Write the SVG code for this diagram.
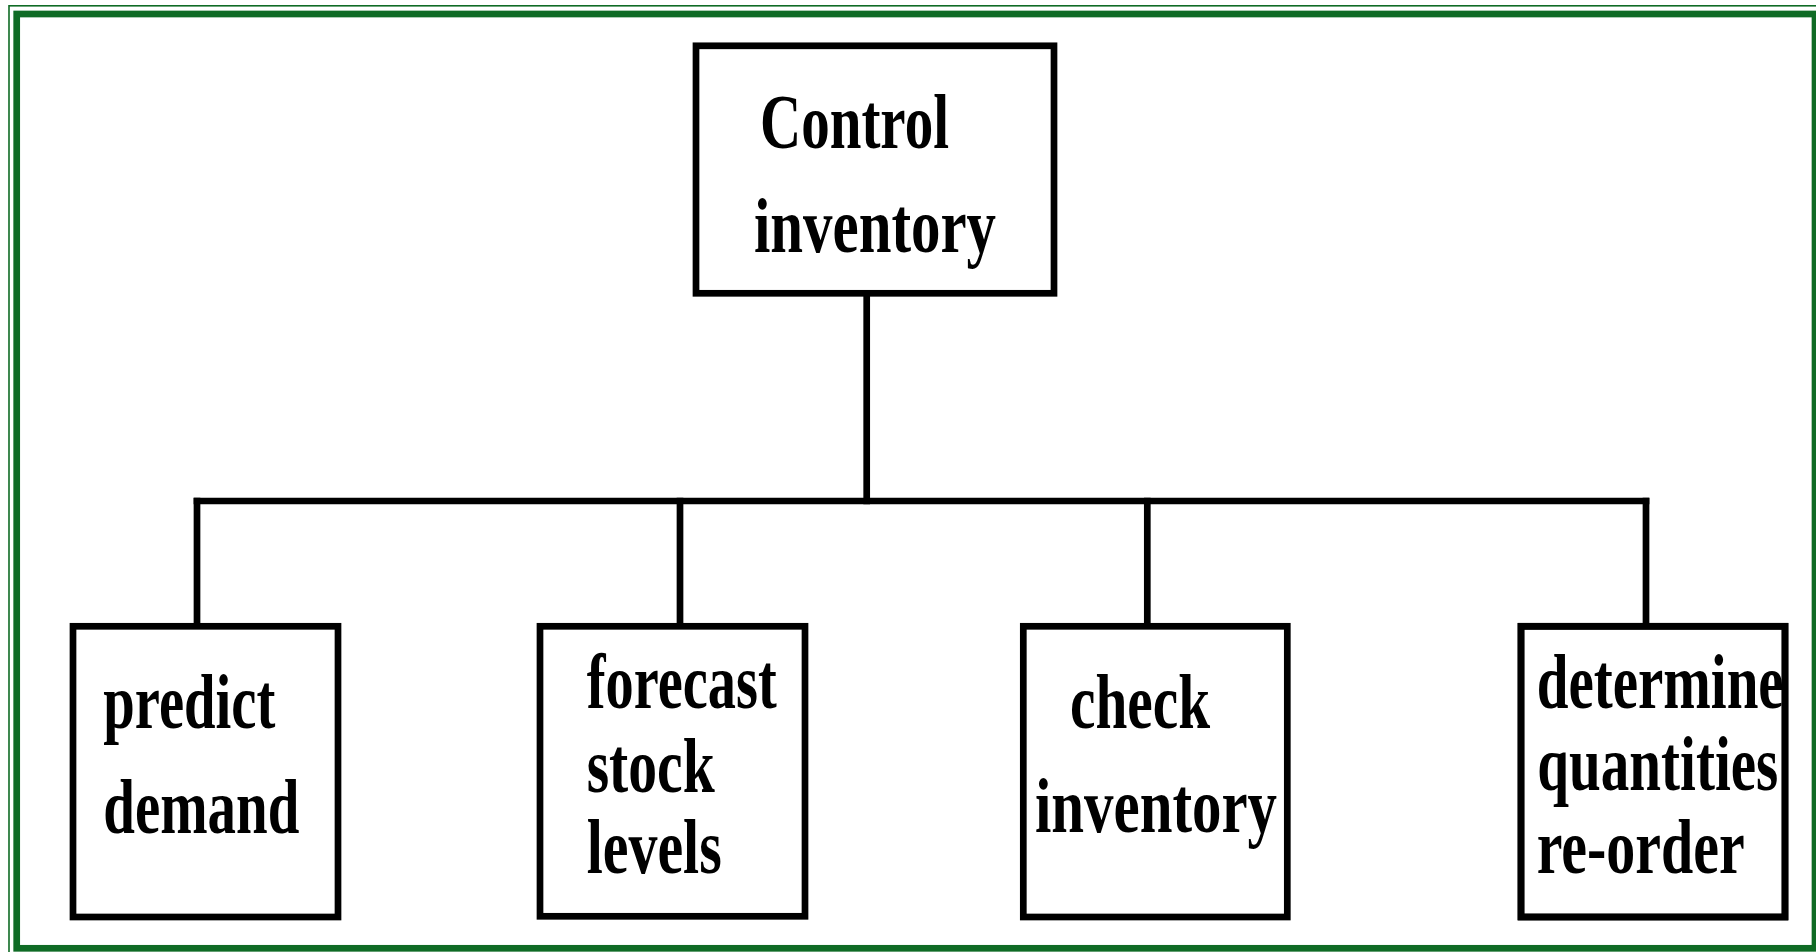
<svg xmlns="http://www.w3.org/2000/svg" width="1816" height="952" viewBox="0 0 1816 952">
  <style>
    .frame { fill: none; stroke: #0f6b25; }
    .box { fill: #ffffff; stroke: #000000; stroke-width: 6.7; }
    .link { fill: none; stroke: #000000; stroke-width: 6.7; stroke-linecap: square; }
    .label { font-family: "Liberation Serif", "Times New Roman", serif; font-weight: bold; font-size: 78px; fill: #000000; }
  </style>

  <rect x="0" y="0" width="1816" height="952" fill="#ffffff"/>

  <!-- double green page frame -->
  <rect class="frame" x="9" y="5.8" width="1830" height="970" stroke-width="1.6"/>
  <rect class="frame" x="16.7" y="14" width="1798.3" height="934.3" stroke-width="6.7"/>

  <!-- tree connectors -->
  <g id="connectors">
    <line class="link" x1="866.7" y1="296" x2="866.7" y2="501"/>
    <line class="link" x1="197" y1="501" x2="1646" y2="501"/>
    <line class="link" x1="197" y1="501" x2="197" y2="623"/>
    <line class="link" x1="680" y1="501" x2="680" y2="623"/>
    <line class="link" x1="1147.3" y1="501" x2="1147.3" y2="623"/>
    <line class="link" x1="1646" y1="501" x2="1646" y2="623"/>
  </g>

  <g id="control-inventory">
    <rect class="box" x="696" y="45.8" width="358" height="247.5"/>
    <text class="label" x="760" y="148" textLength="189" lengthAdjust="spacingAndGlyphs">Control</text>
    <text class="label" x="754" y="251.7" textLength="242" lengthAdjust="spacingAndGlyphs">inventory</text>
  </g>

  <g id="predict-demand">
    <rect class="box" x="73" y="626.3" width="265" height="290.7"/>
    <text class="label" x="103.3" y="728.3" textLength="172" lengthAdjust="spacingAndGlyphs">predict</text>
    <text class="label" x="103.3" y="833.3" textLength="196" lengthAdjust="spacingAndGlyphs">demand</text>
  </g>

  <g id="forecast-stock-levels">
    <rect class="box" x="540" y="626.3" width="265" height="290"/>
    <text class="label" x="586.7" y="708.3" textLength="190" lengthAdjust="spacingAndGlyphs">forecast</text>
    <text class="label" x="586.7" y="791.7" textLength="128" lengthAdjust="spacingAndGlyphs">stock</text>
    <text class="label" x="586.7" y="873.3" textLength="135" lengthAdjust="spacingAndGlyphs">levels</text>
  </g>

  <g id="check-inventory">
    <rect class="box" x="1023.3" y="626.3" width="264" height="290.7"/>
    <text class="label" x="1070" y="728.3" textLength="140" lengthAdjust="spacingAndGlyphs">check</text>
    <text class="label" x="1035" y="831.7" textLength="242" lengthAdjust="spacingAndGlyphs">inventory</text>
  </g>

  <g id="determine-quantities">
    <rect class="box" x="1521" y="626.3" width="264" height="290.7"/>
    <text class="label" x="1536.7" y="708.3" textLength="247" lengthAdjust="spacingAndGlyphs">determine</text>
    <text class="label" x="1537.3" y="790" textLength="241" lengthAdjust="spacingAndGlyphs">quantities</text>
    <text class="label" x="1536.7" y="873.3" textLength="208" lengthAdjust="spacingAndGlyphs">re-order</text>
    <!-- border redrawn over the overflowing label -->
    <rect x="1521" y="626.3" width="264" height="290.7" fill="none" stroke="#000000" stroke-width="6.7"/>
  </g>
</svg>
